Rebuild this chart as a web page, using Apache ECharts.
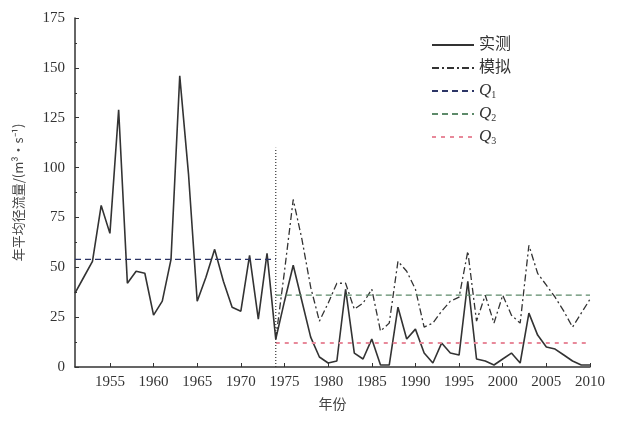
<!DOCTYPE html>
<html lang="zh">
<head>
    <meta charset="UTF-8">
    <title>年平均径流量</title>
    <script src="https://cdn.jsdelivr.net/npm/echarts/dist/echarts.min.js"></script>
    <style>
        body { margin: 0; background: #fff; }
        #main { width: 618px; height: 423px; }
    </style>
</head>
<body>
    <div id="main"></div>
    <script>
        // 年份与实测径流
        const obsYears = [1951, 1952, 1953, 1954, 1955, 1956, 1957, 1958, 1959, 1960,
            1961, 1962, 1963, 1964, 1965, 1966, 1967, 1968, 1969, 1970,
            1971, 1972, 1973, 1974, 1975, 1976, 1977, 1978, 1979, 1980,
            1981, 1982, 1983, 1984, 1985, 1986, 1987, 1988, 1989, 1990,
            1991, 1992, 1993, 1994, 1995, 1996, 1997, 1998, 1999, 2000,
            2001, 2002, 2003, 2004, 2005, 2006, 2007, 2008, 2009, 2010];
        const obsValues = [37, 45, 53, 81, 67, 129, 42, 48, 47, 26,
            33, 54, 146, 97, 33, 45, 59, 43, 30, 28,
            56, 24, 57, 14, 33, 51, 33, 15, 5, 2,
            3, 39, 7, 4, 14, 1, 1, 30, 14, 19,
            7, 2, 12, 7, 6, 43, 4, 3, 1, 4,
            7, 2, 27, 16, 10, 9, 6, 3, 1, 1];

        // 模拟径流 (1974 起)
        const simYears = [1974, 1975, 1976, 1977, 1978, 1979, 1980, 1981, 1982, 1983,
            1984, 1985, 1986, 1987, 1988, 1989, 1990, 1991, 1992, 1993,
            1994, 1995, 1996, 1997, 1998, 1999, 2000, 2001, 2002, 2003,
            2004, 2005, 2006, 2007, 2008, 2009, 2010];
        const simValues = [14, 48, 84, 64, 40, 23, 32, 42, 42, 29,
            32, 39, 18, 22, 53, 48, 39, 20, 22, 28,
            33, 35, 58, 23, 36, 22, 36, 26, 22, 61,
            47, 41, 35, 28, 20, 27, 34];

        // 均值线
        const q1 = 54, q1Range = [1951, 1974];
        const q2 = 36, q2Range = [1974, 2010];
        const q3 = 12, q3Range = [1974, 2010];
        const splitYear = 1974, splitTop = 110;

        const xTickLabels = [1955, 1960, 1965, 1970, 1975, 1980, 1985, 1990, 1995, 2000, 2005, 2010];

        const pair = (xs, ys) => xs.map((x, i) => [x, ys[i]]);
        const flat = (r, v) => [[r[0], v], [r[1], v]];

        const serif = 'Liberation Serif';
        const cjk = 'Noto Sans CJK SC';

        var myChart = echarts.init(document.getElementById('main'));
        var option = {
            backgroundColor: '#fff',
            animation: false,
            grid: { left: 75, right: 28, top: 18, bottom: 56 },
            legend: {
                left: 426, top: 31, orient: 'vertical',
                itemWidth: 42, itemHeight: 14, itemGap: 5,
                itemStyle: { opacity: 0 },
                textStyle: {
                    fontFamily: [serif, cjk].join(','), fontSize: 16, color: '#333', lineHeight: 18,
                    rich: {
                        q: { fontFamily: serif, fontStyle: 'italic', fontSize: 17, color: '#333', lineHeight: 18 },
                        s: { fontFamily: serif, fontSize: 10, color: '#333', lineHeight: 18, verticalAlign: 'bottom' }
                    }
                },
                formatter: function (name) {
                    if (name.charAt(0) === 'Q') {
                        return '{q|Q}{s|' + name.slice(1) + '}';
                    }
                    return name;
                },
                data: ['实测', '模拟', 'Q1', 'Q2', 'Q3']
            },
            xAxis: {
                type: 'value', min: 1951, max: 2010,
                name: '年份', nameLocation: 'middle', nameGap: 30,
                nameTextStyle: { fontFamily: cjk, fontSize: 14, color: '#444' },
                axisLine: { lineStyle: { color: '#333', width: 1.5 } },
                axisTick: { inside: true, length: 4, customValues: xTickLabels, lineStyle: { color: '#333' } },
                axisLabel: {
                    customValues: xTickLabels, fontFamily: serif, fontSize: 15, color: '#333', margin: 8,
                    formatter: function (v) { return String(v); }
                },
                splitLine: { show: false }
            },
            yAxis: {
                type: 'value', min: 0, max: 175, interval: 25,
                name: '年平均径流量/(m³·s⁻¹)', nameLocation: 'middle', nameGap: 50,
                nameTextStyle: { fontFamily: [cjk, serif].join(','), fontSize: 13, color: '#444' },
                axisLine: { show: true, lineStyle: { color: '#333', width: 1.5 } },
                axisTick: { show: true, inside: true, length: 4, lineStyle: { color: '#333' } },
                minorTick: { show: true, splitNumber: 2, length: 2, lineStyle: { color: '#333' } },
                axisLabel: { fontFamily: serif, fontSize: 15, color: '#333', margin: 10 },
                splitLine: { show: false }
            },
            series: [
                {
                    name: '实测', type: 'line', symbol: 'none',
                    data: pair(obsYears, obsValues),
                    lineStyle: { color: '#333', width: 1.6 },
                    itemStyle: { color: '#333' }
                },
                {
                    name: '模拟', type: 'line', symbol: 'none',
                    data: pair(simYears, simValues),
                    lineStyle: { color: '#333', width: 1.3, type: [7, 3, 2, 3] },
                    itemStyle: { color: '#333' }
                },
                {
                    name: 'Q1', type: 'line', symbol: 'none',
                    data: flat(q1Range, q1),
                    lineStyle: { color: '#2c3566', width: 1.3, type: [6, 4] },
                    itemStyle: { color: '#4a5a9a' }
                },
                {
                    name: 'Q2', type: 'line', symbol: 'none',
                    data: flat(q2Range, q2),
                    lineStyle: { color: '#5d8a6a', width: 1.3, type: [6, 4] },
                    itemStyle: { color: '#5d8a6a' }
                },
                {
                    name: 'Q3', type: 'line', symbol: 'none',
                    data: flat(q3Range, q3),
                    lineStyle: { color: '#e8899a', width: 2, type: [4, 5] },
                    itemStyle: { color: '#e8899a' }
                },
                {
                    name: 'split', type: 'line', symbol: 'none', silent: true,
                    data: [[splitYear, 0], [splitYear, splitTop]],
                    lineStyle: { color: '#333', width: 1.2, type: [1, 2] }
                }
            ]
        };
        myChart.setOption(option);
    </script>
</body>
</html>
